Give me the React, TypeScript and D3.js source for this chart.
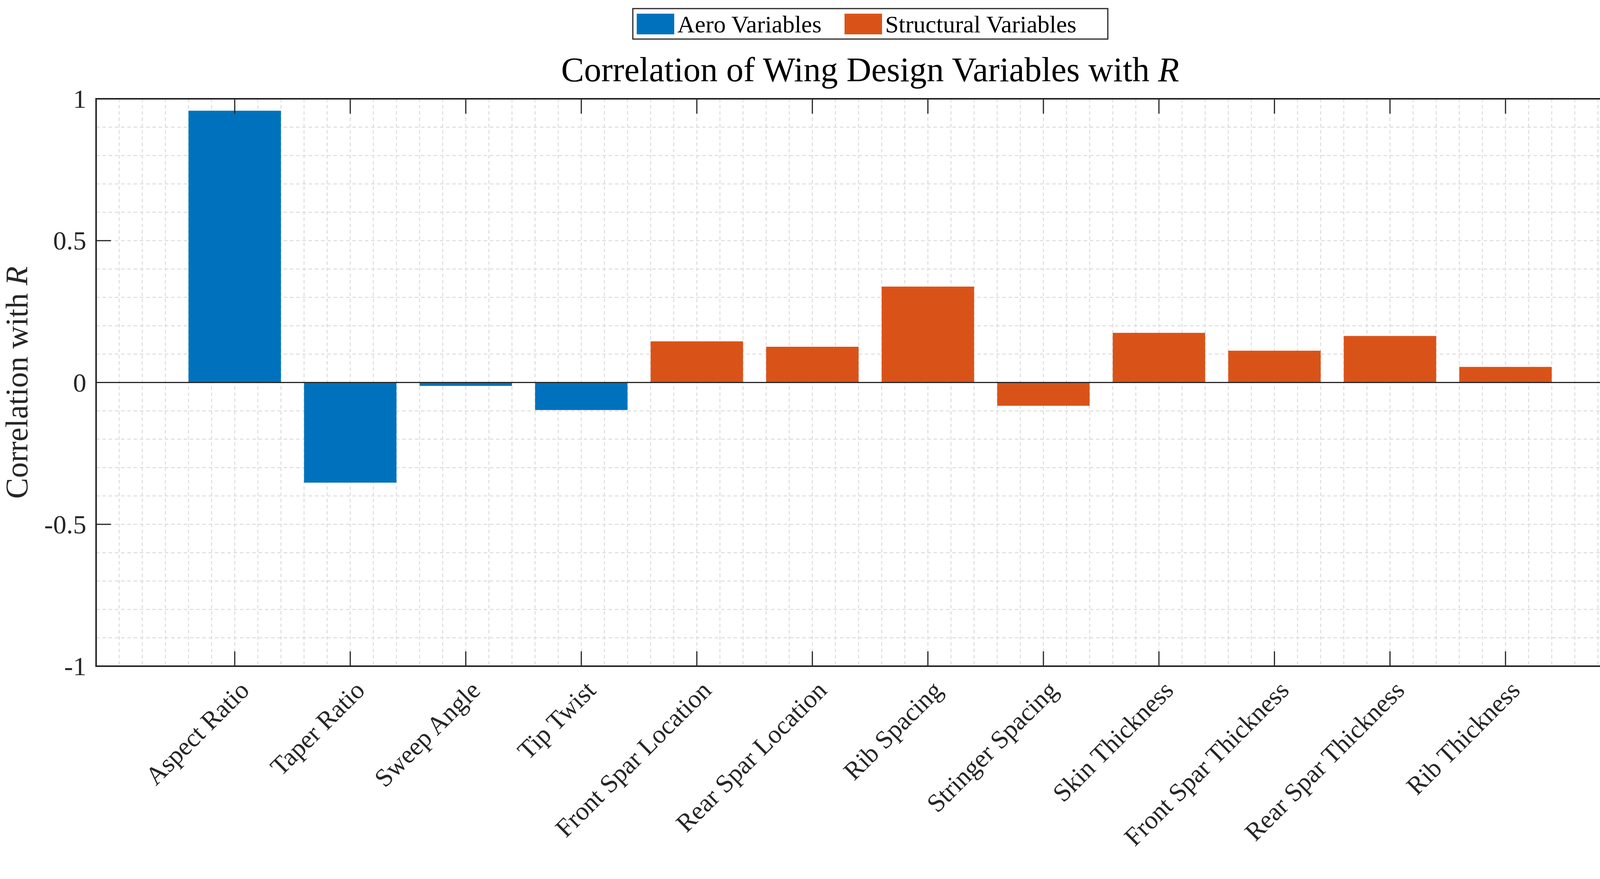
import * as d3 from "d3";
import React, { useEffect, useRef } from "react";

const categories = [
  "Aspect Ratio", "Taper Ratio", "Sweep Angle", "Tip Twist",
  "Front Spar Location", "Rear Spar Location", "Rib Spacing", "Stringer Spacing",
  "Skin Thickness", "Front Spar Thickness", "Rear Spar Thickness", "Rib Thickness",
];
const values = [0.958, -0.353, -0.012, -0.097, 0.145, 0.126, 0.338, -0.082, 0.175, 0.112, 0.164, 0.055];
const groups = ["aero", "aero", "aero", "aero", "struct", "struct", "struct", "struct", "struct", "struct", "struct", "struct"];
const yTicks = [-1, -0.5, 0, 0.5, 1];
const legendLabels = ["Aero Variables", "Structural Variables"];

const colors: Record<string, string> = { aero: "#0072BD", struct: "#D95319" };
const font = "'Liberation Serif', 'DejaVu Serif', serif";

const App: React.FC = () => {
  const svgRef = useRef<SVGSVGElement | null>(null);

  useEffect(() => {
    const W = 4226, H = 2251;
    const svg = d3.select(svgRef.current).attr("width", W).attr("height", H);
    svg.selectAll("*").remove();
    const L = 246, R = 4209, T = 253, B = 1706;

    const x = d3.scaleLinear().domain([-0.2, 13.2]).range([L, R]);
    const y = d3.scaleLinear().domain([-1, 1]).range([B, T]);
    const bw = x(0.8) - x(0);

    // grid
    const g = svg.append("g");
    g.selectAll("line.vg")
      .data(d3.range(0, 66).map((i) => i * 0.2))
      .join("line")
      .attr("x1", (d) => x(d)).attr("x2", (d) => x(d))
      .attr("y1", T).attr("y2", B)
      .attr("stroke", "#dcdcdc").attr("stroke-width", 2.5).attr("stroke-dasharray", "9,7");
    g.selectAll("line.hg")
      .data(d3.range(-9, 10).map((i) => i / 10))
      .join("line")
      .attr("x1", L).attr("x2", R)
      .attr("y1", (d) => y(d)).attr("y2", (d) => y(d))
      .attr("stroke", "#dcdcdc").attr("stroke-width", 2.5).attr("stroke-dasharray", "9,7");

    // bars
    svg.append("g")
      .selectAll("rect")
      .data(values)
      .join("rect")
      .attr("x", (_, i) => x(i + 1) - bw / 2)
      .attr("width", bw)
      .attr("y", (d) => y(Math.max(0, d)))
      .attr("height", (d) => Math.abs(y(d) - y(0)))
      .attr("fill", (_, i) => colors[groups[i]]);

    // baseline
    svg.append("line")
      .attr("x1", L).attr("x2", R).attr("y1", y(0)).attr("y2", y(0))
      .attr("stroke", "#262626").attr("stroke-width", 3);

    // axes box
    svg.append("rect")
      .attr("x", L).attr("y", T).attr("width", R - L).attr("height", B - T)
      .attr("fill", "none").attr("stroke", "#262626").attr("stroke-width", 4);

    // x ticks
    const tl = 38;
    categories.forEach((c, i) => {
      const px = x(i + 1);
      svg.append("line").attr("x1", px).attr("x2", px).attr("y1", B).attr("y2", B - tl)
        .attr("stroke", "#262626").attr("stroke-width", 3);
      svg.append("line").attr("x1", px).attr("x2", px).attr("y1", T).attr("y2", T + tl)
        .attr("stroke", "#262626").attr("stroke-width", 3);
      svg.append("text")
        .attr("transform", `translate(${px + 30},${B + 55}) rotate(-45)`)
        .attr("text-anchor", "end")
        .attr("dominant-baseline", "middle")
        .attr("font-family", font).attr("font-size", 66).attr("fill", "#262626")
        .text(c);
    });

    // y ticks
    yTicks.forEach((t) => {
      svg.append("line").attr("x1", L).attr("x2", L + tl).attr("y1", y(t)).attr("y2", y(t))
        .attr("stroke", "#262626").attr("stroke-width", 3);
      svg.append("line").attr("x1", R).attr("x2", R - tl).attr("y1", y(t)).attr("y2", y(t))
        .attr("stroke", "#262626").attr("stroke-width", 3);
      svg.append("text")
        .attr("x", L - 25).attr("y", y(t))
        .attr("text-anchor", "end").attr("dominant-baseline", "central")
        .attr("font-family", font).attr("font-size", 68).attr("fill", "#262626")
        .text(String(t));
    });

    // y label
    const yl = svg.append("text")
      .attr("transform", `translate(70,${(T + B) / 2}) rotate(-90)`)
      .attr("text-anchor", "middle")
      .attr("font-family", font).attr("font-size", 80).attr("fill", "#262626");
    yl.append("tspan").text("Correlation with ");
    yl.append("tspan").attr("font-style", "italic").text("R");

    // title
    const tt = svg.append("text")
      .attr("x", (L + R) / 2).attr("y", 208)
      .attr("text-anchor", "middle")
      .attr("font-family", font).attr("font-size", 88).attr("fill", "#000");
    tt.append("tspan").text("Correlation of Wing Design Variables with ");
    tt.append("tspan").attr("font-style", "italic").text("R");

    // legend
    const lg = svg.append("g");
    lg.append("rect").attr("x", 1620).attr("y", 22).attr("width", 1216).attr("height", 78)
      .attr("fill", "#fff").attr("stroke", "#262626").attr("stroke-width", 3);
    const items = [
      { label: legendLabels[0], color: colors.aero, x0: 1630 },
      { label: legendLabels[1], color: colors.struct, x0: 2162 },
    ];
    items.forEach((it) => {
      lg.append("rect").attr("x", it.x0).attr("y", 35).attr("width", 96).attr("height", 53).attr("fill", it.color);
      lg.append("text").attr("x", it.x0 + 104).attr("y", 62)
        .attr("dominant-baseline", "central")
        .attr("font-family", font).attr("font-size", 62).attr("fill", "#000")
        .text(it.label);
    });
  }, []);

  return <svg ref={svgRef} style={{ position: "absolute", left: 0, top: 0, background: "#fff" }} />;
};

export default App;
